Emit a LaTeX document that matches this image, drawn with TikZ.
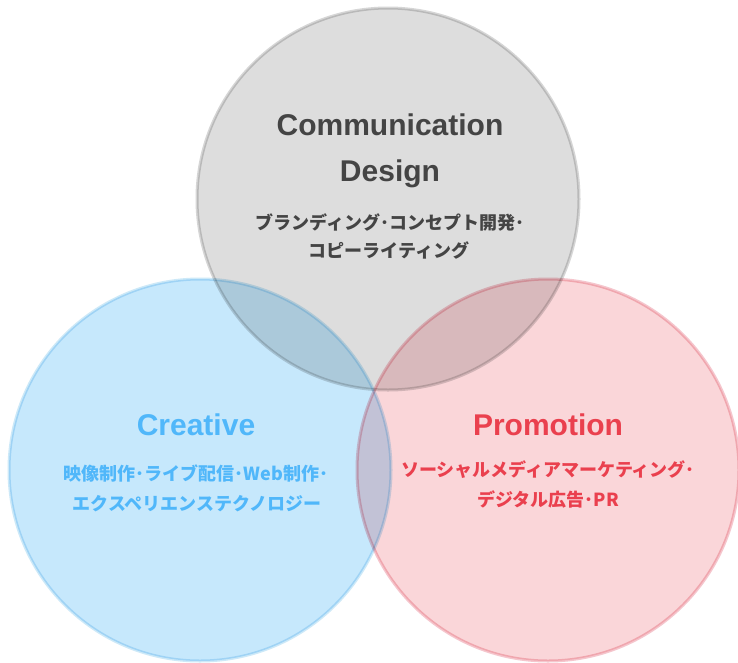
\documentclass[tikz,border=0pt]{standalone}
\usepackage{fontspec}
\setmainfont{Liberation Sans}
\newfontfamily\jpfont{Noto Sans CJK JP}
\definecolor{grayF}{RGB}{221,221,221}
\definecolor{grayB}{RGB}{214,214,214}
\definecolor{blueF}{RGB}{198,232,252}
\definecolor{blueB}{RGB}{205,233,248}
\definecolor{redF}{RGB}{250,214,217}
\definecolor{redB}{RGB}{245,198,205}
\definecolor{grayT}{RGB}{68,68,68}
\definecolor{blueT}{RGB}{80,183,250}
\definecolor{redT}{RGB}{234,64,78}
\tikzset{
  venn/.style={line width=3},
  head/.style={anchor=base, inner sep=0pt, font=\bfseries\fontsize{30}{36}\selectfont},
  sub/.style={anchor=base, inner sep=0pt, font=\jpfont\bfseries\fontsize{18}{22}\selectfont},
}
\begin{document}
\begin{tikzpicture}[x=1pt,y=-1pt]
\useasboundingbox (0,0) rectangle (738,662);
\fill[white] (0,0) rectangle (738,662);
\begin{scope}[blend group=multiply]
  \draw[venn, draw=grayB, fill=grayF] (388,199) circle[radius=191];
  \draw[venn, draw=blueB, fill=blueF] (200,470) circle[radius=191];
  \draw[venn, draw=redB, fill=redF] (548,470) circle[radius=191];
\end{scope}
\node[head, text=grayT] (comm) at (390,135) {Communication};
\node[head, text=grayT] (design) at (390,181) {Design};
\node[sub, text=grayT] (c1) at (390,229) {ブランディング･コンセプト開発･};
\node[sub, text=grayT] (c2) at (389,257) {コピーライティング};
\node[head, text=blueT] (creative) at (196,435) {Creative};
\node[sub, text=blueT] (b1) at (196,480) {映像制作･ライブ配信･Web制作･};
\node[sub, text=blueT] (b2) at (197,510) {エクスペリエンステクノロジー};
\node[head, text=redT] (promo) at (548,435) {Promotion};
\node[sub, text=redT] (r1) at (548,476) {ソーシャルメディアマーケティング･};
\node[sub, text=redT] (r2) at (548,506) {デジタル広告･PR};
\end{tikzpicture}
\end{document}
